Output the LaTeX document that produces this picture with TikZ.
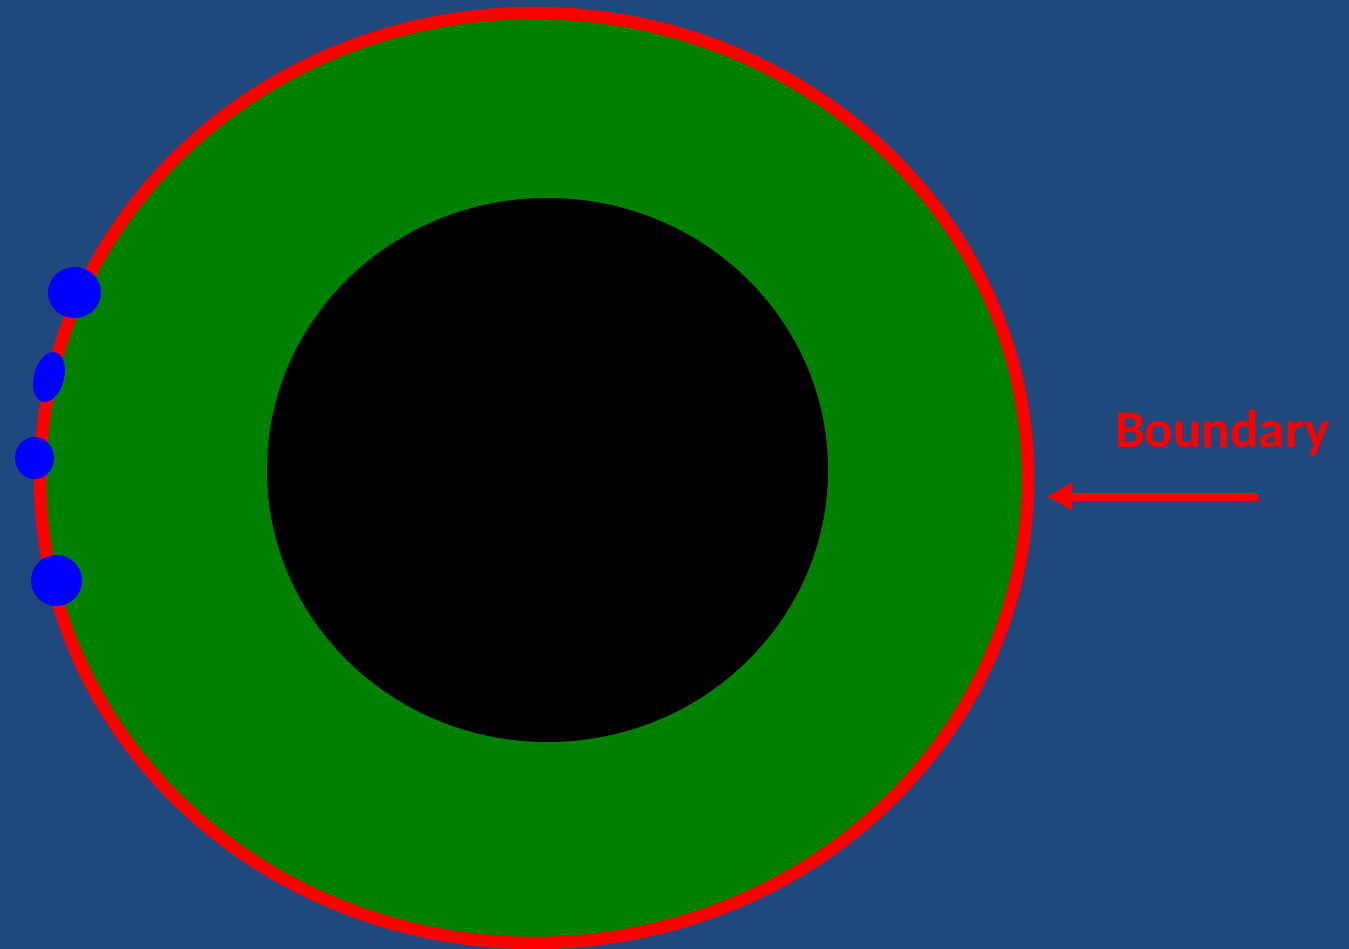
\documentclass[tikz,border=0pt]{standalone}
\usepackage{fontspec}
\setmainfont{Carlito}
\usetikzlibrary{arrows.meta}
\definecolor{bgblue}{RGB}{31,73,125}
\definecolor{ringgreen}{RGB}{0,128,0}
\begin{document}
\begin{tikzpicture}[x=1pt,y=-1pt,line join=round,
	drop/.style={fill=blue},
	bnd arrow/.style={red,line width=8pt,-{Triangle[length=25pt,width=26pt]}}]
			\fill[bgblue] (0,0) rectangle (1349,949);
			\useasboundingbox (0,0) rectangle (1349,949);
			% outer ring with its boundary
			\draw[red,line width=12.5pt,fill=ringgreen] (534,478) ellipse (494 and 465);
			% core
			\fill[black] (547.5,470) ellipse (280.5 and 272);
			% drops on the boundary
			\fill[drop] (74.5,292.5) ellipse (26.5 and 25.5);
			\fill[drop,rotate around={-15:(49,377)}] (49,377) ellipse (15 and 25.5);
			\fill[drop] (34.5,458) ellipse (19.5 and 21);
			\fill[drop] (56.5,580.5) ellipse (25.5 and 25.5);
			% label
			\node[red,font=\bfseries\fontsize{53}{60}\selectfont,inner sep=0pt,anchor=base west] (lbl) at (1115,447) {Boundary};
			\coordinate (tail) at (1258,496.5);
			\coordinate (tip) at (1047,496.5);
			\draw[bnd arrow] (tail) -- (tip);
	\end{tikzpicture}
\end{document}
